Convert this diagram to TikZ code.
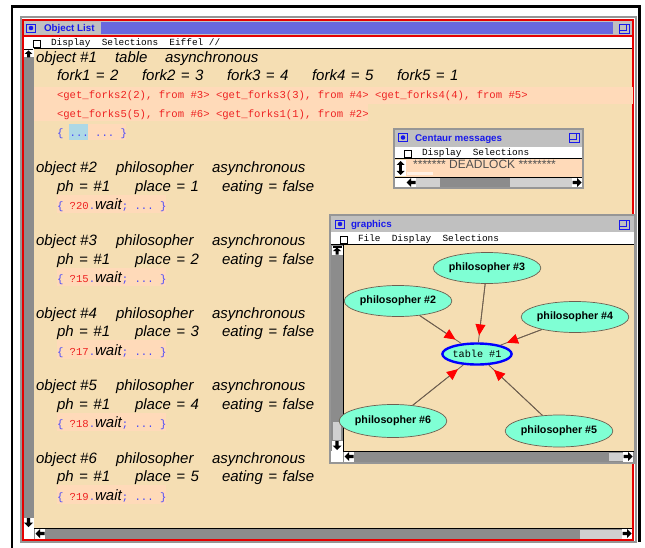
\documentclass[tikz,border=0pt]{standalone}
\usepackage{fontspec}
\setmainfont{Liberation Sans}
\setmonofont{Liberation Mono}
\usetikzlibrary{shapes.geometric,arrows.meta}
\definecolor{wheatbg}{RGB}{245,222,179}
\definecolor{peach}{RGB}{255,218,185}
\definecolor{bargray}{RGB}{192,192,192}
\definecolor{stripe}{RGB}{104,104,222}
\definecolor{ttlblue}{RGB}{25,25,235}
\definecolor{txtred}{RGB}{238,34,34}
\definecolor{txtblue}{RGB}{70,70,250}
\definecolor{hlblue}{RGB}{173,216,230}
\definecolor{aqua}{RGB}{127,255,212}
\definecolor{scrdark}{RGB}{140,140,140}
\definecolor{scrlight}{RGB}{208,208,208}
\definecolor{stip}{RGB}{150,150,150}
\definecolor{edgec}{RGB}{110,95,80}
\definecolor{deadgray}{RGB}{80,80,80}
\definecolor{winred}{RGB}{230,0,0}
\newcommand\eqq{\hspace{5.5pt}=\hspace{5.5pt}}
\tikzset{
  it/.style={anchor=base west, inner sep=0pt, outer sep=0pt, font=\fontsize{15}{18}\selectfont\itshape},
  mono/.style={anchor=base west, inner sep=0pt, outer sep=0pt, font=\fontsize{10.6}{12}\selectfont\ttfamily},
  menu/.style={anchor=base west, inner sep=0pt, outer sep=0pt, font=\fontsize{9.4}{11}\selectfont\ttfamily},
  ttl/.style={anchor=base west, inner sep=0pt, outer sep=0pt, font=\fontsize{9.8}{12}\selectfont\bfseries, text=ttlblue},
  phil/.style={ellipse, fill=aqua, draw=edgec, line width=0.7pt, inner sep=0pt, minimum width=93pt, minimum height=31pt, font=\fontsize{10.7}{12}\selectfont\bfseries},
  tablenode/.style={ellipse, fill=aqua, draw=blue, line width=2.4pt, inner sep=0pt, minimum width=57pt, minimum height=21pt, font=\fontsize{10.2}{12}\selectfont\ttfamily},
  edge/.style={draw=edgec, line width=0.8pt},
  tipedge/.style={draw=edgec, line width=0.8pt, -{Triangle[length=11pt,width=10pt,red]}, shorten >=7pt},
  stipple/.style={draw=stip, line width=2pt},
  winicon/.pic={\fill[bargray] (0,0) rectangle (10,9); \draw[ttlblue,line width=0.9pt] (0.5,0.5) rectangle (9.5,8.5); \fill[ttlblue] (5,4.5) circle (2.3);},
  maxicon/.pic={\draw[ttlblue,line width=0.9pt] (0.5,0.5) rectangle (10.5,9.5); \draw[ttlblue,line width=0.9pt] (0.5,6.5) -- (7,6.5) -- (7,0.5);},
  arrU/.pic={\fill[white] (-5.5,-5) rectangle (5.5,5); \fill[black] (0,-4.5) -- (4.5,0) -- (1.6,0) -- (1.6,4.5) -- (-1.6,4.5) -- (-1.6,0) -- (-4.5,0) -- cycle;},
  arrD/.pic={\fill[white] (-5.5,-5) rectangle (5.5,5); \fill[black] (0,4.5) -- (4.5,0) -- (1.6,0) -- (1.6,-4.5) -- (-1.6,-4.5) -- (-1.6,0) -- (-4.5,0) -- cycle;},
  arrL/.pic={\fill[white] (-5,-5) rectangle (5,5); \fill[black] (-4.5,0) -- (0,-4.5) -- (0,-1.6) -- (4.5,-1.6) -- (4.5,1.6) -- (0,1.6) -- (0,4.5) -- cycle;},
  arrR/.pic={\fill[white] (-5,-5) rectangle (5,5); \fill[black] (4.5,0) -- (0,-4.5) -- (0,-1.6) -- (-4.5,-1.6) -- (-4.5,1.6) -- (0,1.6) -- (0,4.5) -- cycle;},
  arrUD/.pic={\fill[white] (-5.5,-8) rectangle (5.5,8); \fill[black] (0,-7) -- (4,-3) -- (1.4,-3) -- (1.4,3) -- (4,3) -- (0,7) -- (-4,3) -- (-1.4,3) -- (-1.4,-3) -- (-4,-3) -- cycle;},
  arrTop/.pic={\fill[white] (-5.5,-4.5) rectangle (5.5,4.5); \fill[black] (-4.5,-4) rectangle (4.5,-2.5); \fill[black] (0,-2.5) -- (4,1) -- (1.5,1) -- (1.5,4.5) -- (-1.5,4.5) -- (-1.5,1) -- (-4,1) -- cycle;}
}
\begin{document}
\begin{tikzpicture}[x=1pt,y=-1pt]
\useasboundingbox (0,0) rectangle (645,548);
\fill[white] (0,0) rectangle (645,548);
% outer black frame
\draw[line width=2.5pt] (12,548) -- (12,6.5) -- (639.5,6.5) -- (639.5,542);

% ================= Object List window
\draw[stipple] (21,17) rectangle (636,542);
\fill[bargray] (23,20) rectangle (633,36);
\fill[stripe] (101,22) rectangle (613,34);
\pic at (26,23.5) {winicon};
\pic at (619,23.5) {maxicon};
\node[ttl] (olt) at (44,32) {Object List};
\fill[white] (23,36) rectangle (633,48);
\draw[line width=0.8pt] (33,40.5) rectangle (40,47.5);
\node[menu] (olm) at (51,45.5) {Display~~Selections~~Eiffel //};
\fill[wheatbg] (34,48) rectangle (633,528);
\draw[line width=1.3pt] (34,48.5) -- (633,48.5);
% left scrollbar
\fill[scrdark] (23,48) rectangle (34,528);
\pic at (28.5,53) {arrTop};
\pic at (28.5,522.5) {arrD};
\fill[white] (23,528) rectangle (34,540);
% bottom scrollbar
\fill[scrdark] (34,528) rectangle (633,540);
\fill[scrlight] (580,529.5) rectangle (622,538.5);
\pic at (40,533.5) {arrL};
\pic at (627,533.5) {arrR};
\draw[line width=0.8pt] (34,528) -- (633,528);
\draw[winred, line width=1.4pt] (23,20) rectangle (633,540);
\draw[winred, line width=1.2pt] (23,36) -- (633,36);

% ---- object #1
\node[it] (o1) at (36,63) {object \#1};
\node[it] (c1) at (115,63) {table};
\node[it] (a1) at (165,63) {asynchronous};
\node[it] (f1) at (57,81) {fork1\eqq 2};
\node[it] (f2) at (142,81) {fork2\eqq 3};
\node[it] (f3) at (227,81) {fork3\eqq 4};
\node[it] (f4) at (312,81) {fork4\eqq 5};
\node[it] (f5) at (397,81) {fork5\eqq 1};
\fill[peach] (34,87) rectangle (633,104);
\fill[peach] (34,104) rectangle (368,121.5);
\node[mono,text=txtred] (r1) at (57,99) {<get\_forks2(2), from \#3> <get\_forks3(3), from \#4> <get\_forks4(4), from \#5>};
\node[mono,text=txtred] (r2) at (57,118) {<get\_forks5(5), from \#6> <get\_forks1(1), from \#2>};
\fill[hlblue] (69,124) rectangle (88,140);
\fill[peach] (88,124) rectangle (126,140);
\node[mono,text=txtblue] (d1) at (57,137) {\{ ... ... \}};

% ---- objects #2..#6
\foreach \k/\pl/\w in {2/1/20,3/2/15,4/3/17,5/4/18,6/5/19}{
  \pgfmathsetmacro\yb{173+72.5*(\k-2)}
  \fill[peach] (57,{\yb+22}) rectangle (166,{\yb+40.5});
  \node[it] (ob\k) at (36,\yb) {object \#\k};
  \node[it] (cl\k) at (116,\yb) {philosopher};
  \node[it] (as\k) at (212,\yb) {asynchronous};
  \node[it] (ph\k) at (57,{\yb+18.5}) {ph\eqq\#1};
  \node[it] (pl\k) at (135,{\yb+18.5}) {place\eqq\pl};
  \node[it] (ea\k) at (222,{\yb+18.5}) {eating\eqq false};
  \node[mono,text=txtblue] (wa\k) at (57,{\yb+37}) {\{ \textcolor{txtred}{?\w}.};
  \node[it] (wt\k) at (wa\k.base east) {wait};
  \node[mono,text=txtblue] (wb\k) at (wt\k.base east) {; ... \}};
}

% ================= Centaur messages window
\draw[stipple] (394,129) rectangle (583,188);
\fill[bargray] (395,130) rectangle (582,147);
\pic at (398,133) {winicon};
\pic at (569,133) {maxicon};
\node[ttl] (cmt) at (415,142) {Centaur messages};
\fill[white] (395,147) rectangle (582,158);
\draw[line width=0.8pt] (404,150.5) rectangle (411,157.5);
\node[menu] (cmm) at (422,156) {Display~~Selections};
\fill[peach] (406,158) rectangle (582,177);
\fill[white!60!peach] (407,172) rectangle (433,175.5);
\draw[line width=1.2pt] (395,158.5) -- (582,158.5);
\pic at (400.5,168) {arrUD};
\node[anchor=base west, inner sep=0pt, font=\fontsize{12}{14}\selectfont, text=deadgray] (dl) at (413,169) {******* DEADLOCK ********};
\fill[white] (395,177) rectangle (406,187);
\fill[scrlight] (406,178) rectangle (582,187);
\fill[scrdark] (440,178) rectangle (510,187);
\pic at (411,182.5) {arrL};
\pic at (577,182.5) {arrR};
\draw[line width=0.6pt] (395,177) -- (582,177);

% ================= graphics window
\draw[stipple] (330,215) rectangle (635,463);
\fill[bargray] (331,216) rectangle (634,232);
\pic at (335,219.5) {winicon};
\pic at (619,219.5) {maxicon};
\node[ttl] (gt) at (351,228) {graphics};
\fill[white] (331,232) rectangle (634,244);
\draw[line width=0.8pt] (340,236.5) rectangle (347,243.5);
\node[menu] (gm) at (358,241.5) {File~~Display~~Selections};
\fill[wheatbg] (343,245) rectangle (634,451);
\draw[line width=1.3pt] (331,244.5) -- (634,244.5);
\fill[scrdark] (331,245) rectangle (343,451);
\fill[scrlight] (333,422) rectangle (341,440);
\pic at (337,250) {arrTop};
\pic at (337,445.5) {arrD};
\fill[white] (331,451) rectangle (343,462);
\fill[scrdark] (343,451) rectangle (634,462);
\fill[scrlight] (609,452.5) rectangle (623,460.5);
\pic at (349,456.5) {arrL};
\pic at (628,456.5) {arrR};
\draw[line width=0.8pt] (343,451) -- (634,451);
\draw[line width=0.8pt] (343,245) -- (343,451);

% graph
\node[phil] (p3) at (487,268) {philosopher \#3};
\node[phil] (p2) at (398,301) {philosopher \#2};
\node[phil] (p4) at (575,317) {philosopher \#4};
\node[tablenode] (t) at (477,354) {table \#1};
\node[phil, minimum height=33pt] (p6) at (393,421) {philosopher \#6};
\node[phil, minimum width=94pt, minimum height=32pt] (p5) at (559,431) {philosopher \#5};
\foreach \p in {p2,p3,p4,p5,p6}{
  \draw[edge] (\p) -- (t);
  \draw[tipedge] (\p) -- (t);
}
\end{tikzpicture}
\end{document}
